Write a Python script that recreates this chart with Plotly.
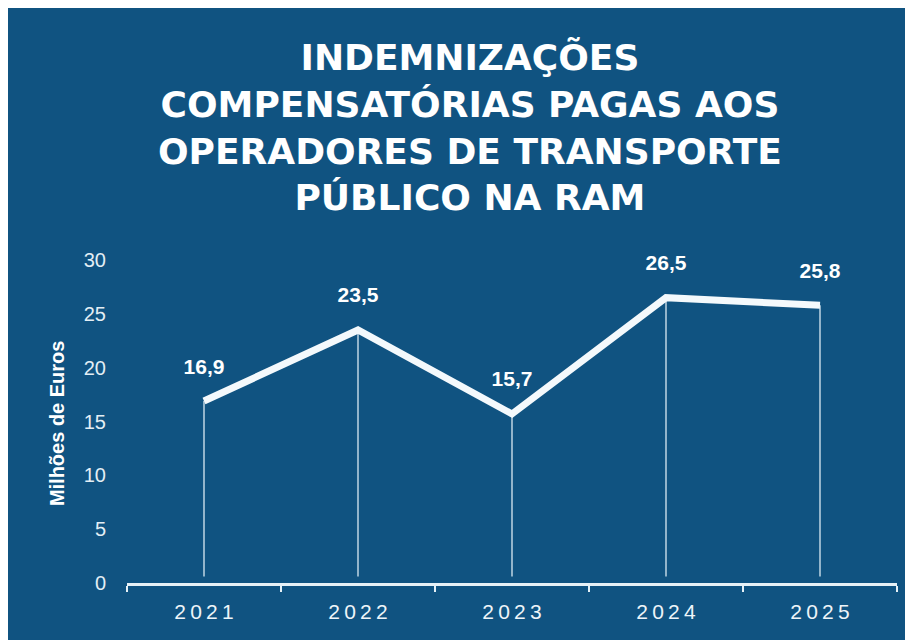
import plotly.graph_objects as go

years = ["2021", "2022", "2023", "2024", "2025"]
year_labels = ["2\u20090\u20092\u20091", "2\u20090\u20092\u20092", "2\u20090\u20092\u20093",
               "2\u20090\u20092\u20094", "2\u20090\u20092\u20095"]
values = [16.9, 23.5, 15.7, 26.5, 25.8]
labels = ["16,9", "23,5", "15,7", "26,5", "25,8"]
y_ticks = [0, 5, 10, 15, 20, 25, 30]
title_text = "INDEMNIZAÇÕES<br>COMPENSATÓRIAS PAGAS AOS<br>OPERADORES DE TRANSPORTE<br>PÚBLICO NA RAM"

BG = "#105381"
WHITE = "#f4f9fc"

fig = go.Figure()
fig.add_trace(go.Scatter(
    x=years, y=values,
    mode="lines+markers+text",
    text=labels,
    textposition="top center",
    textfont=dict(family="Liberation Sans", size=21, color="white", weight="bold"),
    line=dict(color=WHITE, width=7),
    marker=dict(size=34, color="rgba(0,0,0,0)"),
    error_y=dict(type="data", symmetric=False, array=[0] * len(values),
                 arrayminus=[v - 0.6 for v in values], color="#dbeaf3",
                 thickness=1.3, width=0),
    cliponaxis=False,
    hoverinfo="skip",
))

fig.update_layout(
    width=913, height=640,
    paper_bgcolor=BG, plot_bgcolor="rgba(0,0,0,0)",
    margin=dict(l=119, r=24, t=252, b=65),
    showlegend=False,
    xaxis=dict(
        type="category", showgrid=False, showline=True, linecolor="#e6f1f7", linewidth=3,
        ticks="outside", tickson="boundaries", ticklen=6, tickwidth=2, tickcolor="#e6f1f7",
        tickvals=years, ticktext=year_labels,
        tickfont=dict(family="Liberation Sans", size=21, color="#eef5f9"),
        ticklabelstandoff=8,
        range=[-0.5, 4.5], fixedrange=True,
    ),
    yaxis=dict(
        range=[0, 30], tickvals=y_ticks, showgrid=False, zeroline=False, showline=False,
        tickfont=dict(family="Liberation Sans", size=20, color="#e3eef5"),
        ticklabelstandoff=20,
    ),
    annotations=[
        dict(text=title_text, xref="paper", yref="paper", x=0.445, y=1.41,
             xanchor="center", yanchor="middle", showarrow=False,
             font=dict(family="DejaVu Sans", size=36, color="white", weight="bold")),
        dict(text="Milhões de Euros", xref="paper", yref="paper", x=-0.0909, y=0.495,
             xanchor="center", yanchor="middle", textangle=-90, showarrow=False,
             font=dict(family="Liberation Sans", size=20, color="white", weight="bold")),
    ],
)

fig.write_html("out.html")
